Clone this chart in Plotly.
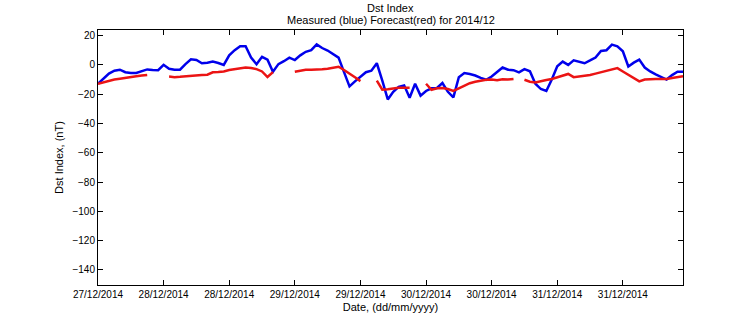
import pandas as pd
import numpy as np
import plotly.graph_objects as go

nan = np.nan

# Hourly Dst, 27/12/2014 12:00 .. 31/12/2014 23:00
start_time = "2014-12-27 12:00"

measured = [
    -12.9, -9.5, -6.0, -4.0, -3.3, -5.0, -5.6, -5.6, -4.5, -3.1,
    -3.5, -3.6, 0.0, -2.7, -3.3, -3.3, 0.5, 3.8, 3.3, 1.1,
    1.5, 2.2, 1.3, 0.0, 6.5, 10.0, 12.7, 12.7, 5.0, 0.4,
    5.5, 3.5, -4.7, 0.5, 2.5, 4.9, 3.3, 6.5, 8.9, 10.0,
    14.0, 11.5, 9.8, 7.6, 4.9, -5.0, -14.7, -11.3, -8.0, -5.0,
    -4.0, 1.1, -10.7, -23.6, -18.4, -15.0, -14.0, -22.4, -12.9, -21.0,
    -17.8, -16.0, -15.8, -12.4, -18.4, -22.2, -8.4, -5.6, -6.3, -7.3,
    -8.9, -10.2, -8.0, -5.1, -1.8, -3.3, -3.6, -5.1, -2.9, -4.4,
    -12.9, -16.5, -17.8, -10.0, -1.0, 2.2, 0.0, 3.1, 2.0, 1.1,
    3.0, 5.0, 9.5, 10.0, 13.8, 12.7, 9.3, -1.1, 1.5, 3.6,
    -1.8, -4.5, -6.5, -8.4, -10.0, -7.0, -4.7, -4.7,
]

forecast = [
    -12.9, -12.0, -10.7, -10.0, -9.5, -8.8, -8.2, -7.8, -7.3, -6.9,
    nan, nan, nan, -8.0, -8.4, -8.2, -7.8, -7.3, -7.0, -6.9,
    -6.7, -5.1, -4.9, -4.5, -3.5, -3.0, -2.5, -1.8, -2.2, -2.9,
    -4.5, -8.3, -5.0, nan, nan, nan, -4.7, -3.8, -3.3, -3.3,
    -3.3, -3.0, -2.7, -2.0, -1.3, -3.5, -5.8, -8.5, -11.1, nan,
    nan, -10.7, -16.9, -16.7, -16.0, -15.6, -15.6, -15.6, nan, nan,
    -12.9, -17.0, -16.0, -15.8, -16.5, -17.8, -16.0, -14.0, -12.5, -11.5,
    -10.7, -10.2, -10.0, -10.5, -9.8, -10.0, -9.6, nan, -10.2, -11.5,
    -12.0, -11.0, -10.3, -9.6, -8.5, -7.0, -6.2, -8.4, -8.0, -7.5,
    -6.9, -6.0, -5.0, -4.0, -3.0, -2.2, -4.5, -6.9, -9.0, -11.3,
    -10.0, -9.6, -9.6, -9.6, -9.6, -9.0, -8.5, -7.8,
]

x_tick_labels = [
    "27/12/2014", "28/12/2014", "28/12/2014", "29/12/2014", "29/12/2014",
    "30/12/2014", "30/12/2014", "31/12/2014", "31/12/2014",
]
y_tick_values = [20, 0, -20, -40, -60, -80, -100, -120, -140]

times = pd.date_range(start_time, periods=len(measured), freq="h")
x_tick_values = pd.date_range(start_time, periods=len(x_tick_labels), freq="12h")

font_family = "Liberation Sans, Arial, Helvetica, sans-serif"

fig = go.Figure()
fig.add_trace(go.Scatter(
    x=times, y=measured, mode="lines",
    line=dict(color="rgb(0,0,235)", width=2.5),
    connectgaps=False, showlegend=False,
))
fig.add_trace(go.Scatter(
    x=times, y=forecast, mode="lines",
    line=dict(color="rgb(235,20,20)", width=2.5),
    connectgaps=False, showlegend=False,
))

axis_common = dict(
    showgrid=False, zeroline=False,
    showline=True, linecolor="black", linewidth=1, mirror="ticks",
    ticks="inside", ticklen=5, tickwidth=1, tickcolor="black",
    tickfont=dict(family=font_family, size=10, color="black"),
)

fig.update_xaxes(
    range=[times[0], times[-1]],
    tickmode="array", tickvals=x_tick_values, ticktext=x_tick_labels,
    title=dict(text="Date, (dd/mm/yyyy)", standoff=4,
               font=dict(family=font_family, size=11, color="black")),
    **axis_common,
)
fig.update_yaxes(
    range=[-150.3, 23.8],
    tickmode="array", tickvals=y_tick_values,
    title=dict(text="Dst Index, (nT)", standoff=6,
               font=dict(family=font_family, size=11, color="black")),
    **axis_common,
)

fig.add_annotation(
    text="Dst Index", xref="paper", yref="paper", x=0.5, y=1.0,
    yshift=14, yanchor="bottom", showarrow=False,
    font=dict(family=font_family, size=11, color="black"),
)
fig.add_annotation(
    text="Measured (blue) Forecast(red) for 2014/12", xref="paper", yref="paper",
    x=0.5, y=1.0, yshift=2, yanchor="bottom", showarrow=False,
    font=dict(family=font_family, size=11, color="black"),
)

fig.update_layout(
    width=756, height=324,
    margin=dict(l=98, r=73, t=30, b=36),
    paper_bgcolor="white", plot_bgcolor="white",
    font=dict(family=font_family, size=10, color="black"),
)

fig.write_html("out.html")
